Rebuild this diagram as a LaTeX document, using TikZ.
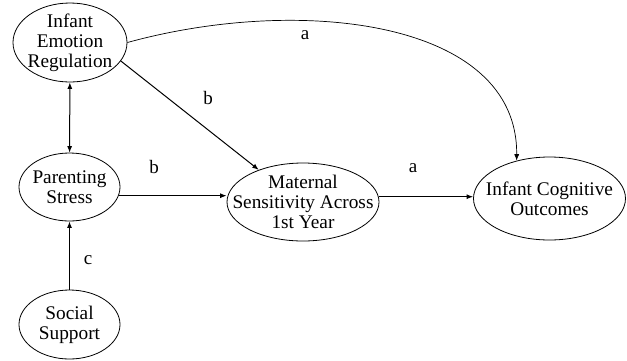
\documentclass[tikz,border=0pt]{standalone}
\usepackage{fontspec}
\setmainfont{Liberation Serif}
\usetikzlibrary{arrows.meta,shapes.geometric}
\tikzset{
  construct/.style={
    ellipse,
    draw,
    line width=0.8pt,
    inner sep=-20pt,
    align=center,
    font=\fontsize{19.3}{20}\selectfont
  },
  effect/.style={
    line width=1pt,
    -{Latex[length=6.5pt,width=5pt]}
  },
  pathlabel/.style={font=\fontsize{19}{20}\selectfont}
}

\begin{document}
\begin{tikzpicture}[x=1pt,y=-1pt]
  \useasboundingbox (0,0) rectangle (627,360);
  % constructs
  \node[construct, minimum width=114pt, minimum height=79pt] (emo) at (70,42.5) {Infant\\Emotion\\Regulation};
  \node[construct, minimum width=101pt, minimum height=68pt] (stress) at (69.5,187) {Parenting\\Stress};
  \node[construct, minimum width=101pt, minimum height=69pt] (support) at (69.5,324.5) {Social\\Support};
  \node[construct, minimum width=152pt, minimum height=78pt] (sens) at (303,202) {Maternal\\Sensitivity Across\\1st Year};
  \node[construct, minimum width=152pt, minimum height=83pt] (cog) at (549.5,198.5) {Infant Cognitive\\Outcomes};
  % paths
  \draw[line width=1pt, {Latex[length=6.5pt,width=5pt]}-{Latex[length=6.5pt,width=5pt]}] (emo) -- (stress);
  \draw[effect] (emo.-20) -- (sens.144);
  \draw[effect] (stress.-10.5) -- (stress.-10.5 -| sens.west);
  \draw[effect] (sens.4) -- (sens.4 -| cog.west);
  \draw[effect] (support) -- (stress);
  \draw[line width=0.7pt, -{Latex[length=6.5pt,width=5pt]}] (emo.east) .. controls (300,-5) and (518,20) .. (cog.131);
  % labels
  \node[pathlabel] (la1) at (305,35) {a};
  \node[pathlabel] (lb1) at (208,98) {b};
  \node[pathlabel] (lb2) at (154,167) {b};
  \node[pathlabel] (la2) at (413,168) {a};
  \node[pathlabel] (lc) at (88,260) {c};
\end{tikzpicture}
\end{document}
